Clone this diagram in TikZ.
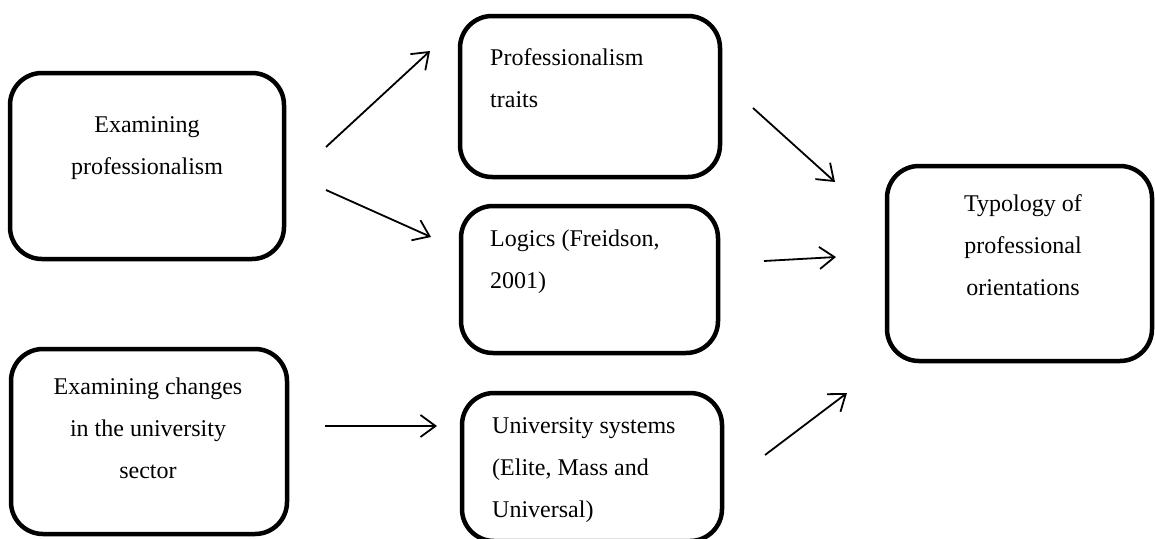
\documentclass[tikz,border=0pt]{standalone}
\usepackage{fontspec}
\setmainfont{Liberation Serif}
\usetikzlibrary{arrows.meta}

\tikzset{
  box/.style={draw=black, line width=4.5pt, rounded corners=32pt, inner sep=0pt},
  txt/.style={inner sep=0pt, font=\fontsize{24}{42}\selectfont},
  ctxt/.style={txt, align=center},
  ltxt/.style={txt, align=left, anchor=west},
  flow/.style={line width=1.8pt, -{Straight Barb[length=15pt,width=22pt,line width=1.8pt]}}
}

\begin{document}
\begin{tikzpicture}[x=1pt,y=-1pt]
  \clip (0,0) rectangle (1155,538);
  \useasboundingbox (0,0) rectangle (1155,538);

  % boxes
  \node[box, minimum width=274pt, minimum height=186pt] (prof)   at (147,166)    {};
  \node[box, minimum width=260pt, minimum height=161pt] (traits) at (590,96.5)   {};
  \node[box, minimum width=257pt, minimum height=147pt] (logics) at (589.5,279.5) {};
  \node[box, minimum width=260pt, minimum height=148pt] (usys)   at (592,467)    {};
  \node[box, minimum width=265pt, minimum height=195pt] (typo)   at (1019.5,263.5) {};
  \node[box, minimum width=276pt, minimum height=185pt] (univ)   at (149,441.5)  {};

  % labels
  \node[ctxt] (profT)   at (147,148)  {Examining\\professionalism};
  \node[ctxt] (univT)   at (148,428)  {Examining changes\\in the university\\sector};
  \node[ltxt] (traitsT) at (490,78)   {Professionalism\\traits};
  \node[ltxt] (logicsT) at (490,262)  {Logics (Freidson,\\2001)};
  \node[ltxt] (usysT)   at (492,470)  {University systems\\(Elite, Mass and\\Universal)};
  \node[ctxt] (typoT)   at (1023,245) {Typology of\\professional\\orientations};

  % arrow end points in the gaps between the boxes
  \coordinate (p1s) at (326,147); \coordinate (p1e) at (430,51);
  \coordinate (p2s) at (326,190); \coordinate (p2e) at (431,237);
  \coordinate (u1s) at (325,426); \coordinate (u1e) at (437,426);
  \coordinate (t1s) at (753,108); \coordinate (t1e) at (835,182);
  \coordinate (l1s) at (764,261); \coordinate (l1e) at (836,257);
  \coordinate (s1s) at (765,455); \coordinate (s1e) at (847,393);

  % connectors
  \draw[flow] (p1s) -- (p1e);
  \draw[flow] (p2s) -- (p2e);
  \draw[flow] (u1s) -- (u1e);
  \draw[flow] (t1s) -- (t1e);
  \draw[flow] (l1s) -- (l1e);
  \draw[flow] (s1s) -- (s1e);
\end{tikzpicture}
\end{document}
